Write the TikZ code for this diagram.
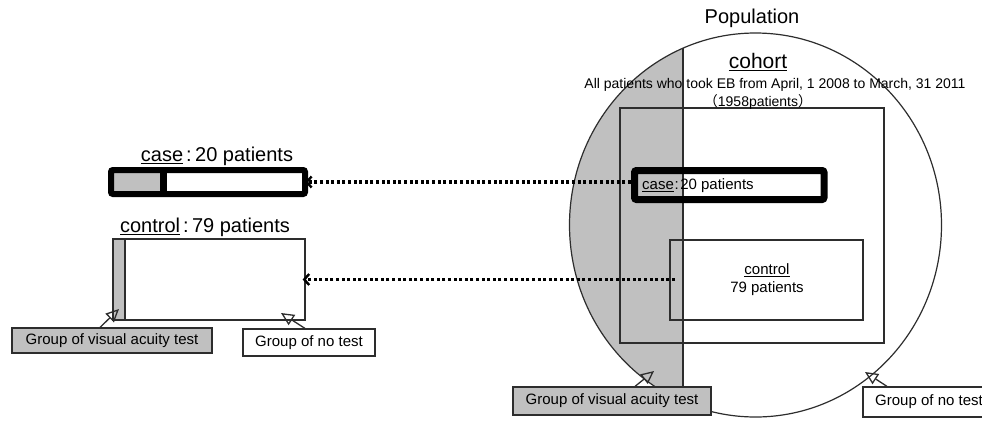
\documentclass[tikz,border=0pt]{standalone}
\usepackage{fontspec}
\setmainfont{Liberation Sans}
\newfontfamily\cjk{Noto Sans CJK JP}
\usetikzlibrary{arrows.meta}
\definecolor{grayfill}{RGB}{192,192,192}
\definecolor{linec}{RGB}{45,45,45}
\newcommand{\fcolon}{\kern0.15em:\kern0.17em}
\newcommand{\fcolonsm}{\kern0.05em:\kern0.1em}
\begin{document}
\begin{tikzpicture}[x=1pt,y=-1pt,
  plainbox/.style={draw=linec, line width=1.2pt, inner sep=0pt},
  heavybox/.style={draw=black, line width=7pt, rounded corners=2pt, inner sep=0pt},
  graylabel/.style={draw=linec, fill=grayfill, line width=1.2pt, inner sep=0pt, font=\fontsize{15pt}{18pt}\selectfont},
  whitelabel/.style={draw=linec, fill=white, line width=1.2pt, inner sep=0pt, font=\fontsize{15pt}{18pt}\selectfont},
  dotarrow/.style={draw=black, line width=3.2pt, dash pattern=on 3pt off 2.6pt,
     -{Straight Barb[length=5pt,width=11pt,line width=2.4pt]}},
  pointer/.style={draw=linec, line width=1.3pt, -{Triangle[open,length=13pt,width=12pt,line width=1.3pt]}},
  bigtext/.style={font=\fontsize{20pt}{24pt}\selectfont, inner sep=1pt},
  midtext/.style={font=\fontsize{15pt}{18pt}\selectfont, inner sep=1pt},
  smalltext/.style={font=\fontsize{14pt}{17pt}\selectfont, inner sep=1pt}]
\useasboundingbox (0,0) rectangle (982,421);
\begin{scope}
\clip (0,0) rectangle (982,421);
% population ellipse with gray part
\begin{scope}
  \clip (560,0) rectangle (683,421);
  \fill[grayfill] (755.5,225) ellipse [x radius=186pt, y radius=192pt];
\end{scope}
\draw[linec, line width=1.2pt] (755.5,225) ellipse [x radius=186pt, y radius=192pt];
\coordinate (divtop) at (683,48.2);
\coordinate (divbot) at (683,387);
\draw[linec, line width=1.4pt] (divtop) -- (divbot);
% cohort and inner boxes
\node[plainbox, minimum width=264pt, minimum height=235pt] (cohortbox) at (752,225.5) {};
\node[plainbox, minimum width=193pt, minimum height=80pt] (controlR) at (766.5,280) {};
\node[heavybox, minimum width=189.5pt, minimum height=29pt] (caseR) at (729.25,185) {};
\node[midtext, anchor=west] (caseRtext) at (641,186) {\underline{case}\fcolonsm 20 patients};
\node[midtext, align=center, font=\fontsize{15pt}{18pt}\selectfont] (controlRtext) at (767,280) {\underline{control}\\79 patients};
% texts
\node[font=\fontsize{20pt}{24pt}\selectfont] (pop) at (752,18) {Population};
\node[bigtext, font=\fontsize{21pt}{24pt}\selectfont] (cohorttitle) at (758,62) {\underline{cohort}};
\node[smalltext] (cohortdesc) at (775,85) {All patients who took EB from April, 1 2008 to March, 31 2011};
\node[font=\fontsize{14pt}{16pt}\selectfont, inner sep=1pt] (cohortn) at (758,102) {{\cjk （}1958patients{\cjk ）}};
% left case bar
\fill[grayfill] (111,170) rectangle (163,194);
\draw[black, line width=7pt] (163.5,170) -- (163.5,194);
\node[heavybox, line width=6pt, minimum width=194pt, minimum height=24pt] (caseL) at (208,182) {};
\node[bigtext] (caseLtext) at (217,156) {\underline{case}\fcolon 20 patients};
% left control
\fill[grayfill] (113,239) rectangle (125,320);
\node[plainbox, minimum width=192pt, minimum height=81pt] (controlL) at (209,279.5) {};
\draw[linec, line width=1.2pt] (125,239) -- (125,320);
\node[bigtext] (controlLtext) at (205,227) {\underline{control}\fcolon 79 patients};
% dotted arrows
\draw[dotarrow, shorten >=-3pt] (caseR.west |- caseL.east) -- (caseL.east);
\coordinate (ctrlstart) at (675,279.5);
\draw[dotarrow, shorten >=-3pt] (ctrlstart) -- (controlL.east);
% labels left
\node[graylabel, minimum width=200pt, minimum height=25pt] (visL) at (112,340.5) {Group of visual acuity test};
\node[whitelabel, minimum width=132pt, minimum height=27pt] (noL) at (309,342.5) {Group of no test};
\coordinate (visLtip) at (119,309);
\coordinate (noLtip) at (281,313);
\draw[pointer] ([xshift=-12pt]visL.north) -- (visLtip);
\draw[pointer] ([xshift=-4pt]noL.north) -- (noLtip);
% labels right
\node[graylabel, minimum width=198pt, minimum height=28pt] (visR) at (612,401) {Group of visual acuity test};
\node[whitelabel, minimum width=132pt, minimum height=30pt] (noR) at (929,402) {Group of no test};
\coordinate (visRtip) at (654,371);
\coordinate (noRtip) at (865,372);
\draw[pointer] ([xshift=23pt]visR.north) -- (visRtip);
\draw[pointer] ([xshift=-42pt]noR.north) -- (noRtip);
\end{scope}
\end{tikzpicture}
\end{document}
